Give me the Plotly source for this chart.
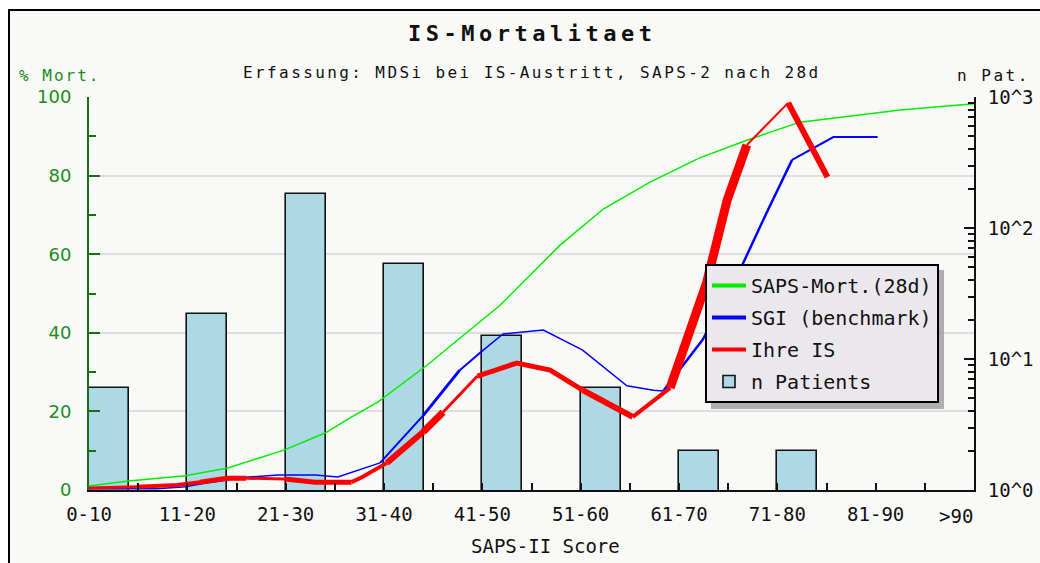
import plotly.graph_objects as go

# ---------------- data ----------------
categories = ["0-10", "11-20", "21-30", "31-40", "41-50", "51-60", "61-70", "71-80", "81-90", ">90"]
cat_pos = [0, 10, 20, 30, 40, 50, 60, 70, 80, 90]

bar_start = [0, 10, 20, 30, 40, 50, 60, 70]
n_patients = [6, 22, 181, 53, 15, 6, 2, 2]

saps_x = [0, 4, 9.8, 14.1, 19.9, 24, 26.5, 29.4, 34.4, 41.8, 47.9, 52.3, 57.1, 62.1, 66.9, 72.3, 82.5, 90]
saps_y = [1.0, 2.3, 3.6, 5.6, 10.2, 14.5, 18.3, 22.4, 31.8, 47, 62.3, 71.5, 78.4, 84.5, 89, 93.6, 96.7, 98.3]

sgi_x = [0, 6.9, 9.8, 11.3, 16.2, 19.2, 23.0, 25.3, 29.6, 34.0, 37.7, 40.1, 42.1, 46.2, 50.2, 54.7, 57.4,
         58.4, 62.4, 66.2, 68.9, 71.5, 75.7, 80.2]
sgi_y = [0.3, 0.3, 0.8, 1.5, 3.3, 3.8, 3.8, 3.3, 6.9, 19.0, 30.5, 35.6, 39.7, 40.7, 35.6, 26.5, 25.4,
         25.2, 38.2, 56.0, 70.5, 84.0, 89.8, 89.8]

ihre_x = [0, 4.9, 9, 11.3, 14, 16, 19.9, 23, 26.7, 27.8, 30.3, 34.0, 36.0, 39.5, 43.5, 46.9, 50.2,
          52.7, 55.3, 59.1, 62.8, 64.9, 66.9, 71.1, 75.1]
ihre_y = [0.5, 0.8, 1.3, 2.0, 3.0, 3.0, 2.8, 2.0, 2.0, 3.3, 6.9, 14.8, 19.8, 29.0, 32.3, 30.5, 25.4,
          22.1, 18.6, 26.0, 52.7, 73.8, 87.8, 98.5, 79.6]

# ---------------- styles ----------------
sgi_widths = [1.5, 1.5, 1.5, 1.5, 1.5, 1.5, 1.5, 1.5, 2, 3, 2, 1.5, 1.5, 1.5, 1.5, 1.5, 1.5,
              2.5, 2.5, 2.5, 2.5, 2, 2]
ihre_widths = [3, 4, 4, 5, 5, 3, 5, 5, 4, 4, 6, 7, 3, 5, 5, 5, 6, 6, 4, 9, 9, 9, 2, 6]

MONO = "DejaVu Sans Mono"
GREEN_TXT = "#228b22"
GREEN_AX = "#157015"
BG = "#f9faf7"

FIG_W, FIG_H = 1040, 563
# plot area in pixels
L, R, T, B = 89, 974, 97, 490
W = R - L
H = B - T


def px_x(p):
    return (p - L) / W


def px_y(p):
    return (B - p) / H


fig = go.Figure()

# legend-only entries
fig.add_trace(go.Scatter(x=[None], y=[None], mode="lines", name="SAPS-Mort.(28d)",
                         line=dict(color="#00ee00", width=4), yaxis="y2", legendgroup="g"))
fig.add_trace(go.Scatter(x=[None], y=[None], mode="lines", name="SGI (benchmark)",
                         line=dict(color="#0000ff", width=4), yaxis="y2", legendgroup="b"))
fig.add_trace(go.Scatter(x=[None], y=[None], mode="lines", name="Ihre IS",
                         line=dict(color="#ff0000", width=4), yaxis="y2", legendgroup="r"))

# bars (log axis, base subplot)
fig.add_trace(go.Bar(x=bar_start, y=n_patients, offset=0, width=4.07, name="n Patients",
                     marker=dict(color="#add8e6", line=dict(color="#111111", width=1.6)),
                     yaxis="y", legendgroup="n"))


def add_var_line(xs, ys, widths, color, group):
    i = 0
    n = len(widths)
    while i < n:
        j = i
        while j + 1 < n and widths[j + 1] == widths[i]:
            j += 1
        fig.add_trace(go.Scatter(x=xs[i:j + 2], y=ys[i:j + 2], mode="lines",
                                 line=dict(color=color, width=widths[i]),
                                 yaxis="y2", showlegend=False, legendgroup=group,
                                 hoverinfo="skip"))
        i = j + 1


fig.add_trace(go.Scatter(x=saps_x, y=saps_y, mode="lines", line=dict(color="#00ee00", width=1.5),
                         yaxis="y2", showlegend=False, legendgroup="g"))
add_var_line(sgi_x, sgi_y, sgi_widths, "#0000ff", "b")
add_var_line(ihre_x, ihre_y, ihre_widths, "#ff0000", "r")

annotations = [
    dict(text='<span style="letter-spacing:4.5px"><b>IS-Mortalitaet</b></span>', x=px_x(532), y=px_y(33),
         xref="paper", yref="paper", showarrow=False, xanchor="center", yanchor="middle",
         font=dict(family=MONO, size=22, color="#111111")),
    dict(text='<span style="letter-spacing:2.4px">Erfassung: MDSi bei IS-Austritt, SAPS-2 nach 28d</span>',
         x=px_x(532), y=px_y(73), xref="paper", yref="paper", showarrow=False,
         xanchor="center", yanchor="middle", font=dict(family=MONO, size=16, color="#111111")),
    dict(text='<span style="letter-spacing:2px">% Mort.</span>', x=px_x(17), y=px_y(75),
         xref="paper", yref="paper", showarrow=False, xanchor="left", yanchor="middle",
         font=dict(family=MONO, size=16, color=GREEN_TXT)),
    dict(text='<span style="letter-spacing:2.5px">n Pat.</span>', x=px_x(955), y=px_y(75),
         xref="paper", yref="paper", showarrow=False, xanchor="left", yanchor="middle",
         font=dict(family=MONO, size=16, color="#111111")),
    dict(text="SAPS-II Score", x=px_x(545), y=px_y(546), xref="paper", yref="paper",
         showarrow=False, xanchor="center", yanchor="middle",
         font=dict(family=MONO, size=19, color="#111111")),
    dict(text=categories[-1], x=88.2, y=px_y(516), xref="x", yref="paper",
         showarrow=False, xanchor="center", yanchor="middle",
         font=dict(family=MONO, size=19, color="#111111")),
]

shapes = [
    dict(type="rect", xref="paper", yref="paper", x0=px_x(9), x1=px_x(1080), y0=px_y(620), y1=px_y(10),
         fillcolor=BG, line=dict(color="#000000", width=2), layer="below"),
    # legend shadow
    dict(type="rect", xref="paper", yref="paper", x0=px_x(711), x1=px_x(944), y0=px_y(409), y1=px_y(270),
         fillcolor="rgba(150,150,150,0.75)", line=dict(width=0), layer="above"),
]

fig.update_layout(
    width=FIG_W, height=FIG_H,
    margin=dict(l=L, r=FIG_W - R, t=T, b=FIG_H - B, autoexpand=False),
    paper_bgcolor="#ffffff",
    plot_bgcolor="rgba(0,0,0,0)",
    showlegend=True,
    bargap=0,
    xaxis=dict(range=[0, 90], showline=True, linecolor="#111111", linewidth=2, automargin=False,
               ticks="inside", ticklen=7, tickcolor="#111111", tickwidth=1.5,
               tickmode="array", tickvals=cat_pos, ticktext=categories[:-1] + [""],
               minor=dict(tickmode="array", tickvals=[5, 15, 25, 35, 45, 55, 65, 75, 85],
                          ticks="inside", ticklen=7, tickcolor="#111111", tickwidth=1.5),
               showgrid=False, zeroline=False, ticklabelstandoff=6,
               tickfont=dict(family=MONO, size=19, color="#111111")),
    yaxis=dict(type="log", range=[0, 3], side="right", showline=True, linecolor="#111111",
               linewidth=2, ticks="inside", ticklen=10, tickcolor="#111111", tickwidth=1.5,
               tickmode="array", tickvals=[1, 10, 100, 1000], automargin=False,
               ticktext=["10^0", "10^1", "10^2", "10^3"],
               minor=dict(tickmode="array",
                          tickvals=[2, 3, 4, 5, 6, 7, 8, 9, 20, 30, 40, 50, 60, 70, 80, 90,
                                    200, 300, 400, 500, 600, 700, 800, 900],
                          ticks="inside", ticklen=6, tickcolor="#111111", tickwidth=1.5),
               showgrid=False, zeroline=False, ticklabelstandoff=8,
               tickfont=dict(family=MONO, size=19, color="#111111")),
    yaxis2=dict(overlaying="y", side="left", range=[0, 100], showline=True, linecolor=GREEN_AX,
                linewidth=2, ticks="inside", ticklen=11, tickcolor=GREEN_AX, tickwidth=1.5,
                tickmode="array", tickvals=[0, 20, 40, 60, 80, 100], automargin=False,
                minor=dict(tickmode="array", tickvals=[10, 30, 50, 70, 90], ticks="inside",
                           ticklen=7, tickcolor=GREEN_AX, tickwidth=1.5),
                showgrid=True, gridcolor="#dedede", gridwidth=2, zeroline=False,
                ticklabelstandoff=12,
                tickfont=dict(family="DejaVu Sans", size=18, color=GREEN_TXT)),
    legend=dict(x=px_x(705), y=px_y(264), xanchor="left", yanchor="top",
                bgcolor="#ebe8ed", bordercolor="#000000", borderwidth=2,
                font=dict(family=MONO, size=20, color="#111111"),
                tracegroupgap=3, traceorder="grouped", itemwidth=34),
    annotations=annotations,
    shapes=shapes,
)

fig.write_html("out.html", config={"displayModeBar": False},
               post_script="document.body.style.margin='0';document.body.style.overflow='hidden';")
